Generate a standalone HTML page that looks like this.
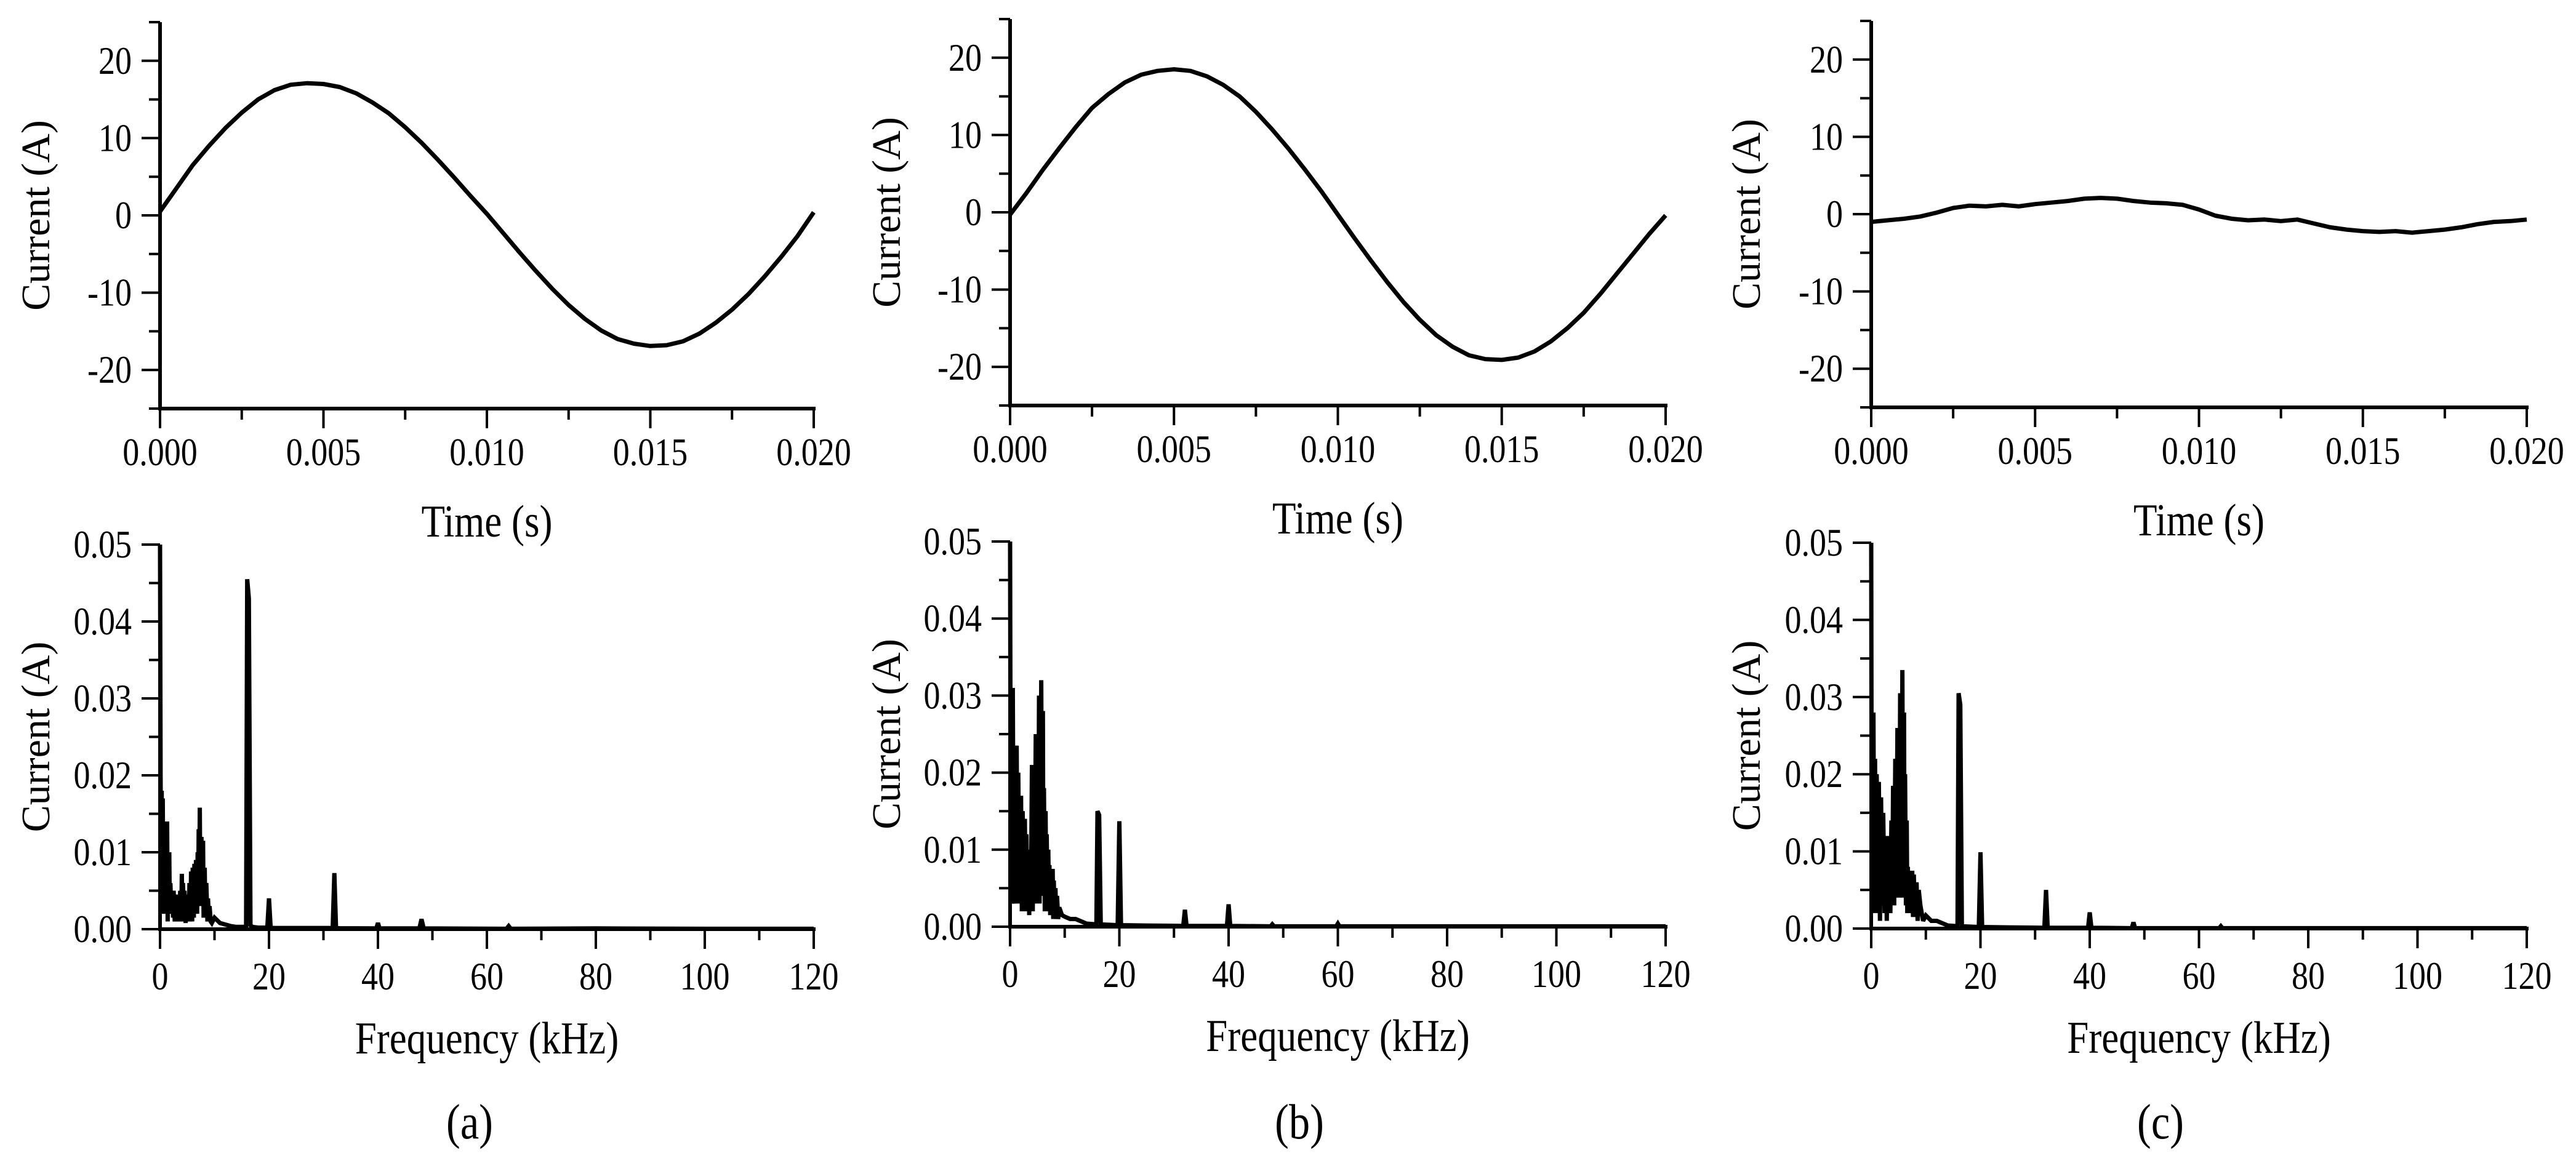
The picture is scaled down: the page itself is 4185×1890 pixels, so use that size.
<!DOCTYPE html>
<html><head><meta charset="utf-8"><style>
html,body{margin:0;padding:0;background:#fff;}
svg{display:block;font-family:"Liberation Serif",serif;}
</style></head><body>
<svg id="fig" width="4185" height="1890" viewBox="0 0 4185 1890" xmlns="http://www.w3.org/2000/svg"></svg>
<script>
// ---- data ----
const timeTicks = ["0.000","0.005","0.010","0.015","0.020"];
const timeTickVals = [0,0.005,0.010,0.015,0.020];
const curTickVals = [-20,-10,0,10,20];
const curTickLabels = ["-20","-10","0","10","20"];
const freqTickVals = [0,20,40,60,80,100,120];
const freqTickLabels = ["0","20","40","60","80","100","120"];
const ampTickVals = [0,0.01,0.02,0.03,0.04,0.05];
const ampTickLabels = ["0.00","0.01","0.02","0.03","0.04","0.05"];
const panelLetters = ["(a)","(b)","(c)"];

const waveA = [0.5,3.5,6.5,9,11.3,13.3,15,16.2,16.9,17.1,17,16.6,15.8,14.6,13.2,11.4,9.4,7.2,4.9,2.5,0.2,-2.3,-4.8,-7.2,-9.5,-11.6,-13.4,-14.9,-16,-16.6,-16.9,-16.8,-16.3,-15.3,-13.9,-12.2,-10.2,-7.9,-5.4,-2.7,0.4];
const waveB = [-0.3,2.5,5.5,8.3,11,13.5,15.3,16.8,17.8,18.3,18.5,18.3,17.6,16.5,15,13,10.7,8.2,5.5,2.7,-0.3,-3.3,-6.2,-9,-11.6,-13.9,-15.9,-17.4,-18.5,-19,-19.1,-18.8,-18,-16.7,-15,-13,-10.6,-8,-5.4,-2.8,-0.4];
const waveC = [-1.0,-0.8,-0.6,-0.3,0.2,0.8,1.1,1.0,1.2,1.0,1.3,1.5,1.7,2.0,2.1,2.0,1.7,1.5,1.4,1.2,0.6,-0.2,-0.6,-0.8,-0.7,-0.9,-0.7,-1.2,-1.7,-2.0,-2.2,-2.3,-2.2,-2.4,-2.2,-2.0,-1.7,-1.3,-1.0,-0.9,-0.7];

// spectrum (freq kHz, amplitude mA)
const freqA = [0,0.1,0.2,0.3,0.4,0.5,0.6,0.7,0.8,0.9,1.0,1.1,1.2,1.3,1.4,1.5,1.6,1.7,1.8,1.9,2.0,2.2,2.4,2.5,2.7,2.8,3.0,3.1,3.3,3.4,3.6,3.7,3.9,4.0,4.1,4.2,4.4,4.5,4.7,4.8,5.0,5.1,5.3,5.4,5.6,5.7,5.9,6.0,6.2,6.3,6.5,6.6,6.8,6.9,7.0,7.1,7.2,7.3,7.4,7.6,7.7,7.9,8.0,8.2,8.3,8.5,8.7,8.8,9.0,9.1,9.3,9.5,10,11,12,13,14,15,15.8,16,16.3,16.6,17,18,19.7,20,20.3,21,25,31.7,32,32.3,33,39.7,40,40.3,47.6,48,48.4,63.6,64,64.4,80,100,120];
const ampA = [50,20,3,18,2,17,4,14,2,13,3,12,2,14,1,10,3,10,2,6,4,5,1.5,5,1,4.5,1,4.5,1.5,4,1,5,1,7.2,1,6,1,5,0.8,4.5,1,4.5,1.2,6,1,7.5,1,8,1.5,8.5,2,9,2,10,3,13,4,15.8,3,12,3,11.5,1.5,8,1.5,6,1,4,1,3,1,0.8,1.5,0.8,0.6,0.4,0.3,0.3,0.3,45.5,43,0.5,0.3,0.2,0.2,4,0.2,0.15,0.15,0.15,7.3,0.15,0.12,0.1,0.8,0.1,0.1,1.3,0.1,0.05,0.4,0.05,0.1,0.05,0.05];
const freqB = [0,0.1,0.2,0.35,0.5,0.65,0.8,1.0,1.2,1.35,1.5,1.7,2.0,2.15,2.3,2.5,2.7,2.85,3.0,3.15,3.3,3.5,3.6,3.8,4.0,4.15,4.3,4.5,4.7,4.85,5.0,5.15,5.3,5.4,5.5,5.6,5.7,5.85,6.0,6.1,6.2,6.35,6.5,6.6,6.7,6.85,7.0,7.1,7.2,7.35,7.5,7.65,7.8,7.9,8.0,8.15,8.3,8.45,8.6,8.8,9.0,9.5,10,11,12,14,15.8,16,16.3,16.6,19.7,20,20.3,25,31.7,32,32.3,39.7,40,40.3,47.7,48,48.3,59.7,60,60.3,80,100,120];
const ampB = [50,15,30,3,31,4,3,22,23.5,3,20,4,17,2,15,3,14,2,12,3,10,1.5,9,2,21,2,20,3,25,3,24,4,30,3,29,4,32,5,28,4,18,2,15,3,12,2,10,3,8,1.5,7,2,7.5,1,6,1.5,5,1,4,1,2.5,1.5,1.3,1,1,0.4,0.3,15,14.5,0.3,0.2,13.7,0.2,0.15,0.1,2.2,0.1,0.1,2.9,0.1,0.05,0.3,0.05,0.05,0.4,0.05,0.05,0.05,0.05];
const freqC = [0,0.1,0.2,0.3,0.4,0.55,0.7,0.85,1.0,1.2,1.4,1.6,1.8,2.0,2.2,2.45,2.7,2.85,3.0,3.15,3.3,3.5,3.7,3.85,4.0,4.2,4.4,4.6,4.8,4.9,5.0,5.15,5.3,5.4,5.5,5.6,5.7,5.85,6.0,6.1,6.2,6.35,6.5,6.6,6.7,6.85,7.0,7.25,7.5,7.65,7.8,8.0,8.3,8.5,8.7,9.0,9.5,10,11,12,14,15.8,16,16.3,16.6,19.7,20,20.3,25,31.7,32,32.3,39.7,40,40.3,47.7,48,48.3,63.7,64,64.3,80,100,120];
const ampC = [50,3,27,2,28,3,22,2,20,3,19,1,17,3,15,2,10,1,12,2,11,2,14,3,18.5,3,22,4,26,5,25,4,30.5,5,30,4,33.5,6,28,5,20,3,14,2,8,2,7,2,7.5,1.5,7,1.5,6,1,5,3,1,1.7,1,1,0.4,0.3,30.5,29,0.3,0.2,9.9,0.2,0.15,0.1,5,0.1,0.1,2.1,0.1,0.05,0.8,0.05,0.05,0.3,0.05,0.05,0.05,0.05];

const waves = [waveA, waveB, waveC];
const freqs = [freqA, freqB, freqC];
const amps = [ampA, ampB, ampC];

// ---- layout ----
const NS = "http://www.w3.org/2000/svg";
const svg = document.getElementById('fig');
const panels = [
  {x0:260, x1:1322, tZero:350, tBot:664, sBot:1510, sTop:885, ytitle:58, letter:763},
  {x0:1641, x1:2706, tZero:345, tBot:659, sBot:1506, sTop:880, ytitle:1440, letter:2111},
  {x0:3040, x1:4105, tZero:348, tBot:662, sBot:1509, sTop:882, ytitle:2837, letter:3510}
];
function mk(tag, attrs, parent){
  const e = document.createElementNS(NS, tag);
  for (const k in attrs) e.setAttribute(k, attrs[k]);
  (parent||svg).appendChild(e);
  return e;
}
function txt(s, x, y, size, anchor, parent){
  const t = mk('text', {x:x, y:y, 'font-size':size, 'text-anchor':anchor||'middle', fill:'#000'}, parent);
  t.textContent = s;
  return t;
}
function ctxt(s, x, y, size, anchor, parent){
  // slightly condensed text (narrow Times-like look)
  const t = mk('text', {x:0, y:0, 'font-size':size, 'text-anchor':anchor||'middle', fill:'#000', transform:'translate(' + x + ',' + y + ') scale(0.9,1.06)'}, parent);
  t.textContent = s;
  return t;
}

panels.forEach((p, i) => {
  const g = mk('g', {});
  
  

  // ===== time-domain plot =====
  const tScale = (p.tBot - p.tZero) / 25;
  const ty = v => p.tZero - v * tScale;
  const tx = v => p.x0 + (v / 0.020) * (p.x1 - p.x0);
  const tg = mk('g', {}, g);
  
  
  const ya = mk('line', {x1:p.x0, y1:ty(25), x2:p.x0, y2:ty(-25), stroke:'#000', 'stroke-width':6}, tg);
  
  
  const xa = mk('line', {x1:p.x0-3, y1:ty(-25), x2:p.x1+3, y2:ty(-25), stroke:'#000', 'stroke-width':6}, tg);
  
  
  for (let v = -25; v <= 25; v += 5) {
    const isMajor = curTickVals.indexOf(v) >= 0;
    mk('line', {x1:p.x0, y1:ty(v), x2:p.x0 - (isMajor ? 30 : 18), y2:ty(v), stroke:'#000', 'stroke-width':4}, tg);
  }
  curTickVals.forEach((v, k) => {
    const t = ctxt(curTickLabels[k], p.x0 - 46, ty(v) + 21, 60, 'end', tg);
    
    
  });
  for (let k = 0; k <= 8; k++) {
    const v = k * 0.0025;
    const isMajor = k % 2 === 0;
    mk('line', {x1:tx(v), y1:ty(-25), x2:tx(v), y2:ty(-25) + (isMajor ? 32 : 18), stroke:'#000', 'stroke-width':4}, tg);
  }
  timeTickVals.forEach((v, k) => {
    const t = ctxt(timeTicks[k], tx(v), ty(-25) + 92, 60, 'middle', tg);
    
    
  });
  const pts = waves[i].map((v, k) => tx(k * 0.0005).toFixed(1) + ',' + ty(v).toFixed(1)).join(' ');
  const wl = mk('polyline', {points:pts, fill:'none', stroke:'#000', 'stroke-width':7, 'stroke-linejoin':'round'}, tg);
  
  
  const xt = ctxt('Time (s)', (p.x0 + p.x1) / 2, ty(-25) + 208, 70, 'middle', tg);
  
  
  const yt = mk('text', {x:0, y:0, 'font-size':66, 'text-anchor':'middle', fill:'#000', transform:'translate(' + (p.ytitle + 22) + ',' + (p.tZero) + ') rotate(-90)'}, tg);
  yt.textContent = 'Current (A)';
  
  

  // ===== spectrum plot =====
  const sy = v => p.sBot - (v / 0.05) * (p.sBot - p.sTop);
  const sx = v => p.x0 + (v / 120) * (p.x1 - p.x0);
  const sg = mk('g', {}, g);
  
  
  const sya = mk('line', {x1:p.x0, y1:sy(0.05), x2:p.x0, y2:sy(0), stroke:'#000', 'stroke-width':6}, sg);
  
  
  const sxa = mk('line', {x1:p.x0-3, y1:sy(0), x2:p.x1+3, y2:sy(0), stroke:'#000', 'stroke-width':6}, sg);
  
  
  for (let k = 0; k <= 10; k++) {
    const v = k * 0.005;
    mk('line', {x1:p.x0, y1:sy(v), x2:p.x0 - (k % 2 === 0 ? 30 : 18), y2:sy(v), stroke:'#000', 'stroke-width':4}, sg);
  }
  ampTickVals.forEach((v, k) => {
    const t = ctxt(ampTickLabels[k], p.x0 - 46, sy(v) + 21, 60, 'end', sg);
    
    
  });
  for (let k = 0; k <= 12; k++) {
    const v = k * 10;
    mk('line', {x1:sx(v), y1:sy(0), x2:sx(v), y2:sy(0) + (k % 2 === 0 ? 32 : 18), stroke:'#000', 'stroke-width':4}, sg);
  }
  freqTickVals.forEach((v, k) => {
    const t = ctxt(freqTickLabels[k], sx(v), sy(0) + 98, 60, 'middle', sg);
    
    
  });
  const spts = freqs[i].map((f, k) => sx(f).toFixed(1) + ',' + sy(amps[i][k] / 1000).toFixed(1)).join(' ');
  const sl = mk('polyline', {points:spts, fill:'none', stroke:'#000', 'stroke-width':7, 'stroke-linejoin':'miter', 'stroke-miterlimit':2}, sg);
  
  
  const fx = ctxt('Frequency (kHz)', (p.x0 + p.x1) / 2, sy(0) + 202, 70, 'middle', sg);
  
  
  const fy = mk('text', {x:0, y:0, 'font-size':66, 'text-anchor':'middle', fill:'#000', transform:'translate(' + (p.ytitle + 22) + ',' + ((p.sTop + p.sBot) / 2) + ') rotate(-90)'}, sg);
  fy.textContent = 'Current (A)';
  
  

  const lt = ctxt(panelLetters[i], p.letter, 1850, 76, 'middle', g);
  
  
});
</script>
</body></html>
